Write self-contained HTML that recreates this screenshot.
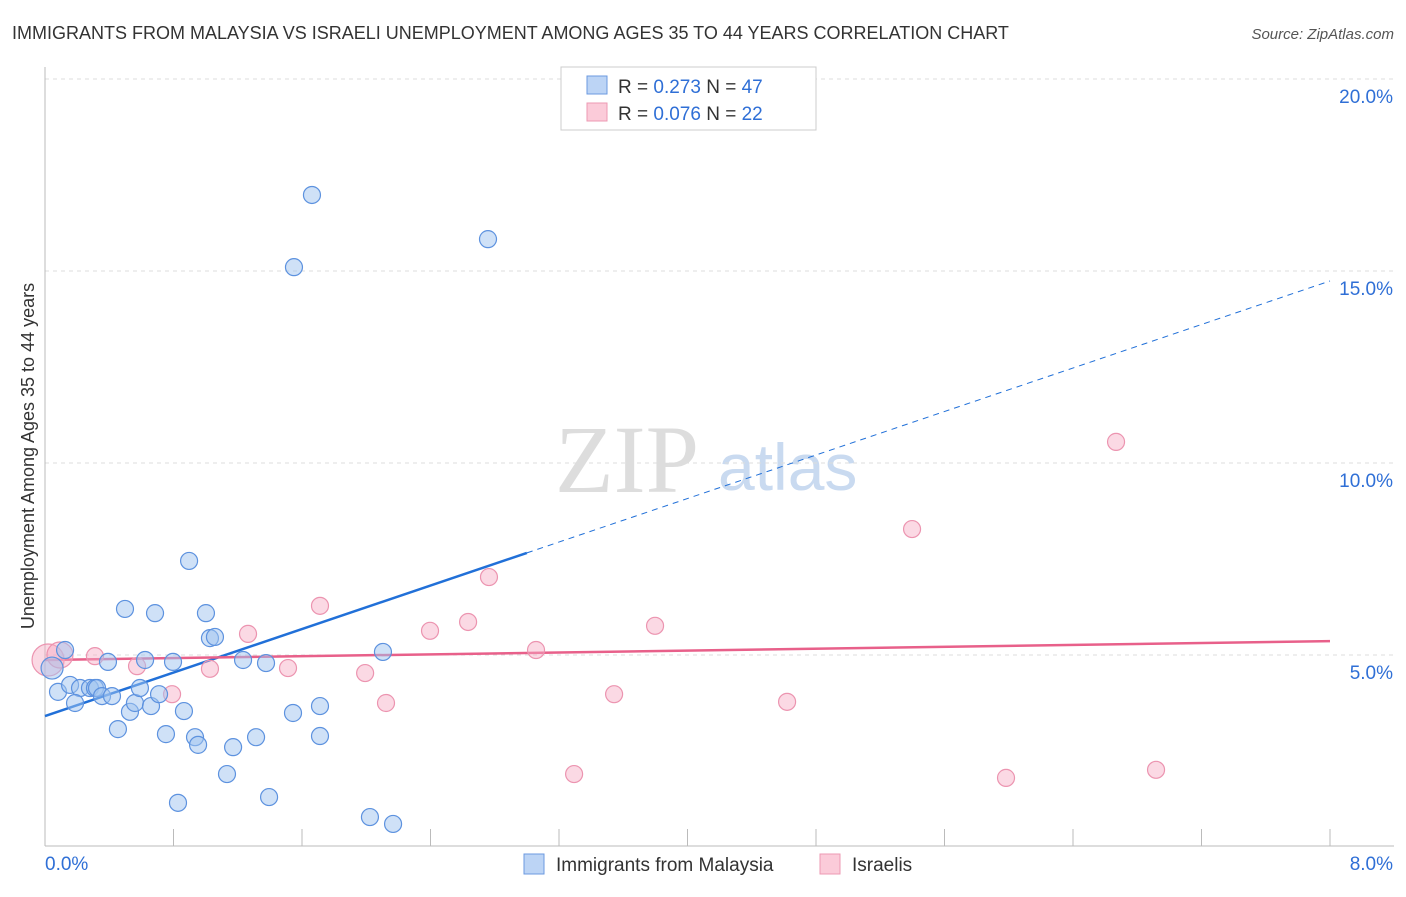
<!DOCTYPE html>
<html><head><meta charset="utf-8"><style>
body{margin:0;background:#fff;font-family:"Liberation Sans",sans-serif}
svg text{font-family:"Liberation Sans",sans-serif}
</style></head><body>
<svg id="c" width="1406" height="892">
<text x="12" y="39" font-size="18" fill="#333">IMMIGRANTS FROM MALAYSIA VS ISRAELI UNEMPLOYMENT AMONG AGES 35 TO 44 YEARS CORRELATION CHART</text>
<text x="1394" y="39" font-size="15" fill="#555" text-anchor="end" font-style="italic">Source: ZipAtlas.com</text>
<text x="555" y="492" font-size="96" fill="#ddd" font-family="Liberation Serif" style="font-family:'Liberation Serif',serif">ZIP</text>
<text x="718" y="490" font-size="66" fill="#c9daf0">atlas</text>
<g id="grid"></g>
<g id="axes"></g>
<g id="lines"></g>
<g id="pts"></g>
<text transform="translate(34,456) rotate(-90)" font-size="18" fill="#333" text-anchor="middle">Unemployment Among Ages 35 to 44 years</text>
<g>
<rect x="561" y="67" width="255" height="63" fill="#fff" stroke="#ccc"/>
<rect x="587" y="76" width="20" height="18" fill="#bcd4f5" stroke="#6b9ae0"/>
<rect x="587" y="103" width="20" height="18" fill="#fbcbd9" stroke="#ec9ab3"/>
<text x="618" y="93" font-size="19" fill="#333">R = <tspan fill="#2f6fd6">0.273</tspan>   N = <tspan fill="#2f6fd6">47</tspan></text>
<text x="618" y="120" font-size="19" fill="#333">R = <tspan fill="#2f6fd6">0.076</tspan>   N = <tspan fill="#2f6fd6">22</tspan></text>
</g>
<g>
<rect x="524" y="854" width="20" height="20" fill="#bcd4f5" stroke="#6b9ae0"/>
<text x="556" y="871" font-size="19" fill="#333">Immigrants from Malaysia</text>
<rect x="820" y="854" width="20" height="20" fill="#fbcbd9" stroke="#ec9ab3"/>
<text x="852" y="871" font-size="19" fill="#333">Israelis</text>
</g>
</svg>
<script>
const yTicks=[5,10,15,20];
const xTickLabels=["0.0%","8.0%"];
const blueX=[0.044,0.125,0.081,0.156,0.218,0.280,0.311,0.324,0.355,0.417,0.392,0.187,0.454,0.498,0.529,0.560,0.591,0.623,0.660,0.685,0.710,0.753,0.797,0.828,0.865,0.897,0.934,0.953,1.002,1.027,1.058,1.133,1.171,1.233,1.314,1.376,1.395,1.544,1.550,1.662,1.712,1.712,2.023,2.104,2.167,2.758];
const blueY=[4.66,5.13,4.04,4.22,4.14,4.14,4.14,4.14,3.93,3.93,4.82,3.75,3.07,6.20,3.52,3.75,4.14,4.87,3.67,6.09,3.98,2.94,4.82,1.15,3.54,7.45,2.86,2.66,6.09,5.44,5.47,1.90,2.60,4.87,2.86,4.79,1.30,3.49,15.10,16.98,3.67,2.89,0.78,5.08,0.60,15.83];
const pinkX=[0.019,0.093,0.311,0.573,0.791,1.027,1.264,1.513,1.712,1.993,2.123,2.397,2.634,2.764,3.057,3.294,3.543,3.798,4.620,5.398,5.983,6.668,6.917];
const pinkY=[4.87,5.0,4.97,4.71,3.98,4.64,5.55,4.66,6.28,4.53,3.75,5.63,5.86,7.03,5.13,1.90,3.98,5.76,3.78,8.28,1.80,10.55,2.01];
const pinkR=[16,13,8.5,8.5,8.5,8.5,8.5,8.5,8.5,8.5,8.5,8.5,8.5,8.5,8.5,8.5,8.5,8.5,8.5,8.5,8.5,8.5,8.5];
const blueTrend=[3.41,14.74], blueSolidEnd=3.0;
const pinkTrend=[4.87,5.36];
const X=v=>45+v/8*1285, Y=v=>847-v/5*192;
const NS="http://www.w3.org/2000/svg";
function mk(p,t,a){const e=document.createElementNS(NS,t);for(const k in a)e.setAttribute(k,a[k]);document.getElementById(p).appendChild(e);return e;}
yTicks.forEach(t=>{
 const l=mk('grid','line',{x1:45,x2:1394,y1:Y(t),y2:Y(t),stroke:'#ddd','stroke-dasharray':'4,4'});
 
 
 const tx=mk('grid','text',{x:1393,y:Y(t)+24,'font-size':19,fill:'#2f6fd6','text-anchor':'end'});
 tx.textContent=t.toFixed(1)+'%';
 
 
});
const ax=mk('axes','line',{x1:45,x2:45,y1:67,y2:846,stroke:'#bbb'});


const bx=mk('axes','line',{x1:45,x2:1394,y1:846,y2:846,stroke:'#bbb'});


for(let i=0;i<=10;i++){const tk=mk('axes','line',{x1:X(i*0.8),x2:X(i*0.8),y1:829,y2:846,stroke:'#bbb'});
 
 }
[[0,'start',45],[8,'end',1393]].forEach((d,i)=>{const t=mk('axes','text',{x:d[2],y:870,'font-size':19,fill:'#2f6fd6','text-anchor':d[1]});t.textContent=xTickLabels[i];
 
 });
const by=x=>blueTrend[0]+(blueTrend[1]-blueTrend[0])*x/8;
const l1=mk('lines','line',{x1:X(0),y1:Y(by(0)),x2:X(blueSolidEnd),y2:Y(by(blueSolidEnd)),stroke:'#2170d8','stroke-width':2.5});


const l2=mk('lines','line',{x1:X(blueSolidEnd),y1:Y(by(blueSolidEnd)),x2:X(8),y2:Y(by(8)),stroke:'#2170d8','stroke-width':1,'stroke-dasharray':'6,5'});


const l3=mk('lines','line',{x1:X(0),y1:Y(pinkTrend[0]),x2:X(8),y2:Y(pinkTrend[1]),stroke:'#e8608a','stroke-width':2.5});


pinkX.forEach((x,i)=>{const c=mk('pts','circle',{cx:X(x),cy:Y(pinkY[i]),r:pinkR[i],fill:'rgba(246,170,195,0.45)',stroke:'#ec94b0','stroke-width':1.2});
 
 });
blueX.forEach((x,i)=>{const c=mk('pts','circle',{cx:X(x),cy:Y(blueY[i]),r:i==0?11:8.5,fill:'rgba(160,195,240,0.5)',stroke:'#5d92df','stroke-width':1.2});
 
 });
</script>
</body></html>
